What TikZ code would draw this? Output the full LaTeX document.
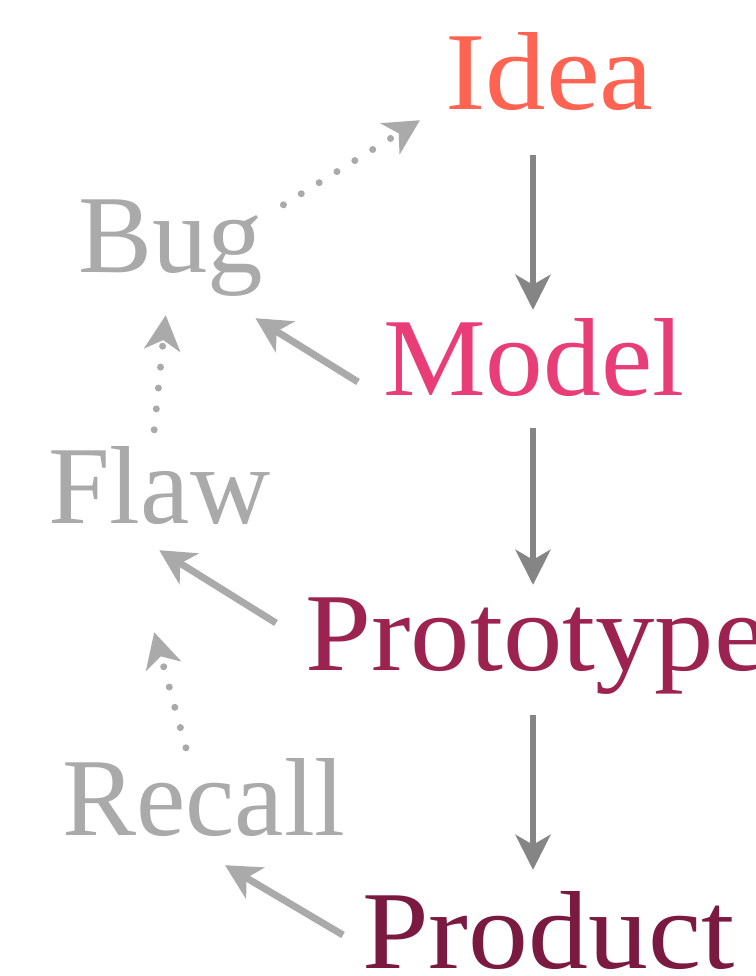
\documentclass[tikz,border=0pt]{standalone}
\usepackage{fontspec}
\setmainfont{Liberation Serif}
\usetikzlibrary{arrows.meta}

\definecolor{ideacol}{HTML}{FF6452}
\definecolor{modelcol}{HTML}{E83D76}
\definecolor{protocol}{HTML}{9C2350}
\definecolor{productcol}{HTML}{7B1A40}
\definecolor{faintgrey}{HTML}{AAAAAA}
\definecolor{stepgrey}{HTML}{858585}

\begin{document}
\begin{tikzpicture}[x=1pt, y=-1pt,
  word/.style={anchor=base west, inner sep=0pt, text height=76pt, text depth=6pt,
    font=\fontsize{111}{120}\selectfont},
  forward/.style={draw=stepgrey, line width=6.5pt, -{Stealth[length=35pt, width=35pt, inset=10pt]}},
  backward/.style={draw=faintgrey, line width=7pt, -{Stealth[length=35pt, width=36pt, inset=10pt]}},
  dotted back/.style={backward, line cap=round, dash pattern=on 0pt off 21pt}]

\useasboundingbox (0,0) rectangle (755,976);

% main line
\node[word, text=ideacol, xscale=1.09]    (idea)      at (445,110) {Idea};
\node[word, text=modelcol, xscale=1.04]   (model)     at (383,395) {Model};
\node[word, text=protocol, xscale=1.07]   (prototype) at (305,670) {Prototype};
\node[word, text=productcol, xscale=1.08] (product)   at (362,968) {Product};

% failures
\node[word, text=faintgrey] (bug)    at (78,272)  {Bug};
\node[word, text=faintgrey] (flaw)   at (48,523)  {Flaw};
\node[word, text=faintgrey] (recall) at (62,835)  {Recall};

% forward steps
\draw[forward] ([shift={(88,39)}]idea.south west) -- ([shift={(150,-9)}]model.north west);
\draw[forward] ([shift={(150,27)}]model.south west) -- ([shift={(228,-9)}]prototype.north west);
\draw[forward] ([shift={(228,39)}]prototype.south west) -- ([shift={(171,-22)}]product.north west);

% things going wrong
\draw[backward] ([shift={(-25,22)}]model.west) -- ([shift={(-8,40)}]bug.south east);
\draw[backward] ([shift={(-29,-12)}]prototype.west) -- ([shift={(0,21)}]flaw.south);
\draw[backward] ([shift={(-19,2)}]product.west) -- ([shift={(21,24)}]recall.south);

% back up the chain
\draw[dotted back] ([shift={(20,9)}]bug.north east) -- ([shift={(-25,4)}]idea.south west);
\draw[dotted back] ([shift={(-5,-17)}]flaw.north) -- ([shift={(-5,37)}]bug.south);
\draw[dotted back] ([shift={(-18,-11)}]recall.north) -- ([shift={(-5,103)}]flaw.south);

\end{tikzpicture}
\end{document}
